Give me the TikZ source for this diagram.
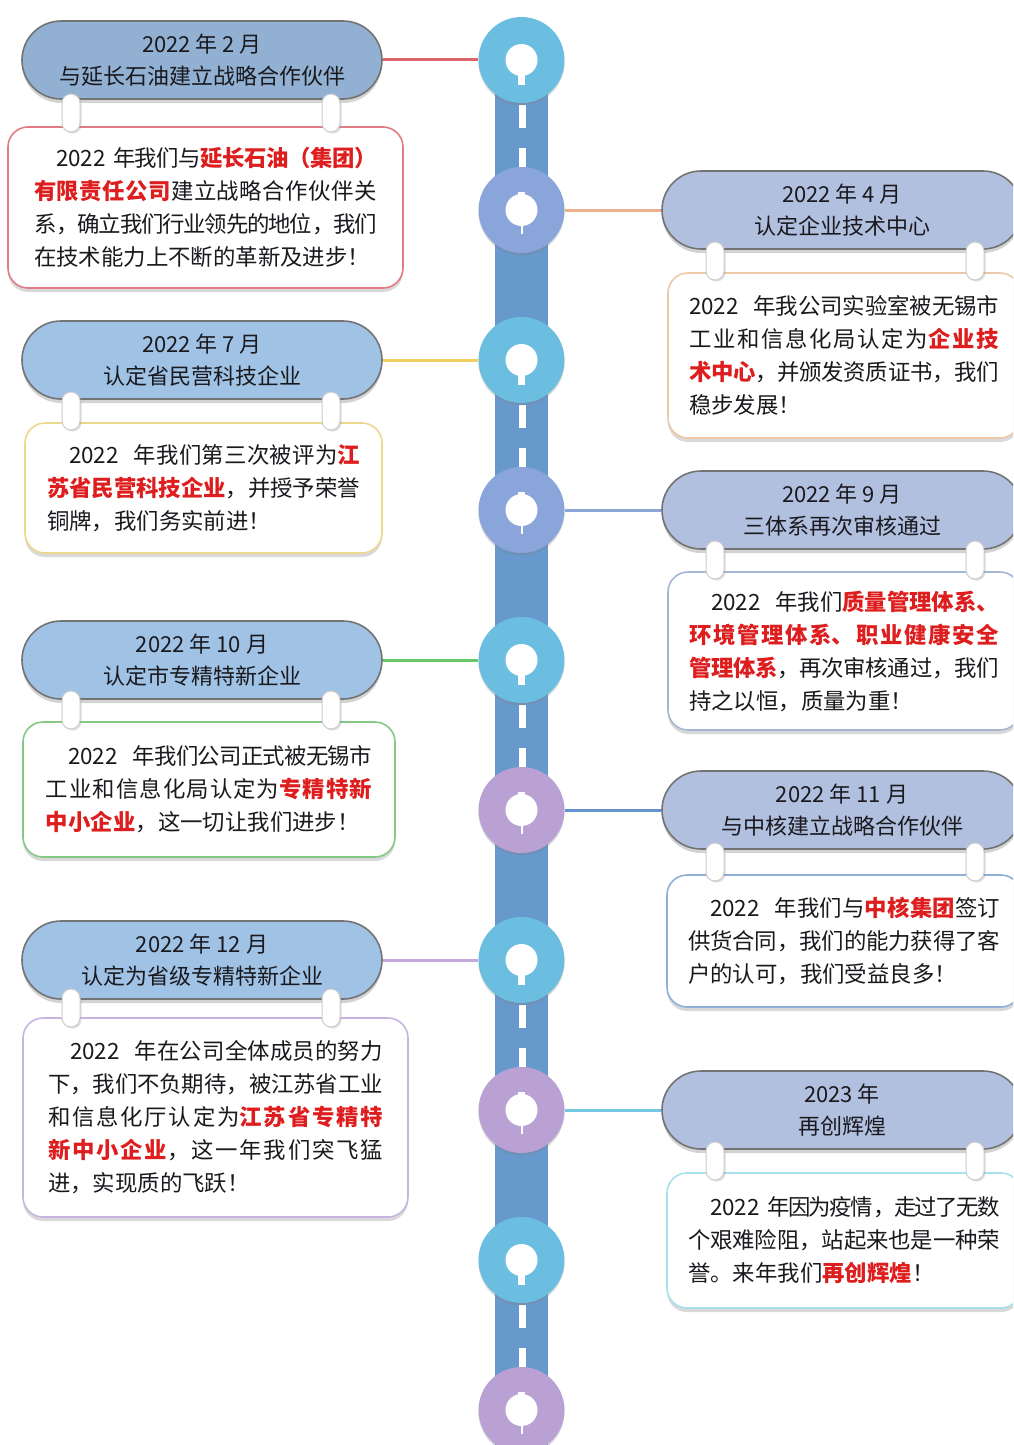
\documentclass[tikz,border=0pt]{standalone}
\usepackage{fontspec}
\setmainfont{Noto Sans CJK SC}
\usepackage{xcolor}
\usepackage{tikz}
\usetikzlibrary{shadows}

\setlength{\parindent}{0pt}

\definecolor{road}{RGB}{103,153,205}
\definecolor{dotA}{RGB}{108,190,224}
\definecolor{dotB}{RGB}{138,165,218}
\definecolor{dotC}{RGB}{185,161,211}
\definecolor{headL}{RGB}{160,194,229}
\definecolor{headLdark}{RGB}{146,176,210}
\definecolor{headR}{RGB}{178,192,224}
\definecolor{ink}{RGB}{25,25,30}
\definecolor{hotred}{RGB}{222,30,30}
\definecolor{lnA}{RGB}{221,102,110}
\definecolor{lnB}{RGB}{238,178,138}
\definecolor{lnC}{RGB}{240,208,96}
\definecolor{lnD}{RGB}{140,166,216}
\definecolor{lnE}{RGB}{102,200,102}
\definecolor{lnF}{RGB}{98,148,208}
\definecolor{lnG}{RGB}{196,168,220}
\definecolor{lnH}{RGB}{118,200,226}
\definecolor{bdA}{RGB}{226,124,132}
\definecolor{bdB}{RGB}{236,200,166}
\definecolor{bdC}{RGB}{236,216,140}
\definecolor{bdD}{RGB}{164,182,212}
\definecolor{bdE}{RGB}{132,200,132}
\definecolor{bdF}{RGB}{142,176,216}
\definecolor{bdG}{RGB}{200,180,226}
\definecolor{bdH}{RGB}{168,224,236}

\newcommand{\hot}[1]{{\bfseries\color{hotred}#1}}
% one full, justified line of a card
\newcommand{\spreadline}[1]{{\rightskip=0pt\parfillskip=0pt #1\par}}
\newcommand{\ind}{\hspace*{11pt}}

\tikzset{
  headbox/.style={rectangle, rounded corners=19.5pt, fill=#1, draw=black!55, line width=0.8pt,
    minimum width=180pt, minimum height=39pt, align=center, text=ink,
    font=\fontsize{11}{16}\selectfont,
    drop shadow={opacity=0.35, shadow xshift=0pt, shadow yshift=-2pt}},
  textbox/.style={rectangle, rounded corners=10pt, fill=white, draw=#1, line width=0.8pt,
    align=left, text=ink, inner xsep=11pt,
    font={\XeTeXlinebreaklocale "zh"\XeTeXlinebreakskip=0pt plus 3pt minus 2pt%
      \XeTeXlinebreakpenalty=10000\fontsize{11.2}{16.5}\selectfont},
    drop shadow={opacity=0.3, shadow xshift=0pt, shadow yshift=-2pt}},
  tabbox/.style={rectangle, rounded corners=4.5pt, fill=white, draw=black!20, line width=0.5pt,
    minimum width=9pt, minimum height=19pt, inner sep=0pt,
    drop shadow={opacity=0.25, shadow xshift=0.8pt, shadow yshift=-0.8pt}},
  dotring/.style={circle, fill=#1, minimum size=43pt, inner sep=0pt,
    drop shadow={opacity=0.3, shadow xshift=0pt, shadow yshift=-1.2pt}},
  dothole/.style={circle, fill=white, minimum size=16pt, inner sep=0pt},
  linkline/.style={draw=#1, line width=1.5pt}
}

\begin{document}
\begin{tikzpicture}[x=0.5pt,y=-0.5pt]
\useasboundingbox (0,0) rectangle (1013,1445);
\clip (0,0) rectangle (1013,1445);

% road and its middle marks
\fill[road] (495,60) rectangle (548,1445);
\foreach \yy in {60,360,660,960,1260}{
  \fill[white] (518.5,\yy+45) rectangle (525.5,\yy+68);
  \fill[white] (518.5,\yy+88) rectangle (525.5,\yy+113);
}

% milestones
\foreach \n/\yy/\col in {1/60/dotA, 2/210/dotB, 3/360/dotA, 4/510/dotB, 5/660/dotA,
                          6/810/dotC, 7/960/dotA, 8/1110/dotC, 9/1260/dotA, 10/1410/dotC}{
  \node[dotring=\col] (c\n) at (521.5,\yy) {};
  \node[dothole] (k\n) at (521.5,\yy) {};
}
\foreach \yy in {60,360,660,960,1260}
  \fill[white] (518,\yy+10) rectangle (525,\yy+25);
\foreach \yy in {210,510,810,1110,1410}{
  \fill[white] (518,\yy-18) rectangle (525,\yy-12);
  \fill[white] (520.5,\yy+12) rectangle (522.5,\yy+24);
}

% text cards
\node[textbox=bdA, text width=171.5pt, inner xsep=13pt, minimum height=80.5pt] (b1) at (205.5,207.5) {%
  \spreadline{\ind 2022~年我们与\hot{延长石油（集团）}}
  \spreadline{\hot{有限责任公司}建立战略合作伙伴关}
  \spreadline{系，确立我们行业领先的地位，我们}
  在技术能力上不断的革新及进步！};
\node[textbox=bdB, text width=155pt, inner xsep=10.5pt, minimum height=82.5pt] (b2) at (844,355.5) {%
  \spreadline{2022~~年我公司实验室被无锡市}
  \spreadline{工业和信息化局认定为\hot{企业技}}
  \spreadline{\hot{术中心}，并颁发资质证书，我们}
  稳步发展！};
\node[textbox=bdC, text width=156.5pt, inner xsep=11pt, minimum height=65pt] (b3) at (203.5,488) {%
  \spreadline{\ind 2022~~年我们第三次被评为\hot{江}}
  \spreadline{\hot{苏省民营科技企业}，并授予荣誉}
  铜牌，我们务实前进！};
\node[textbox=bdD, text width=155pt, inner xsep=10.5pt, minimum height=79pt] (b4) at (844,651) {%
  \spreadline{\ind 2022~~年我们\hot{质量管理体系、}}
  \spreadline{\hot{环境管理体系、职业健康安全}}
  \spreadline{\hot{管理体系}，再次审核通过，我们}
  持之以恒，质量为重！};
\node[textbox=bdE, text width=163pt, inner xsep=11.5pt, minimum height=67.5pt] (b5) at (209,789.5) {%
  \spreadline{\ind 2022~~年我们公司正式被无锡市}
  \spreadline{工业和信息化局认定为\hot{专精特新}}
  \hot{中小企业}，这一切让我们进步！};
\node[textbox=bdF, text width=156pt, inner xsep=10.5pt, minimum height=66pt] (b6) at (844,941) {%
  \spreadline{\ind 2022~~年我们与\hot{中核集团}签订}
  \spreadline{供货合同，我们的能力获得了客}
  户的认可，我们受益良多！};
\node[textbox=bdG, text width=167.5pt, inner xsep=12.5pt, minimum height=99.5pt] (b7) at (215.5,1117.5) {%
  \spreadline{\ind 2022~~年在公司全体成员的努力}
  \spreadline{下，我们不负期待，被江苏省工业}
  \spreadline{和信息化厅认定为\hot{江苏省专精特}}
  \spreadline{\hot{新中小企业}，这一年我们突飞猛}
  进，实现质的飞跃！};
\node[textbox=bdH, text width=156pt, inner xsep=10.5pt, minimum height=67.5pt] (b8) at (844,1240.5) {%
  \spreadline{\ind 2022~年因为疫情，走过了无数}
  \spreadline{个艰难险阻，站起来也是一种荣}
  誉。来年我们\hot{再创辉煌}！};

% titles
\node[headbox=headLdark] (h1) at (202,60) {2022 年 2 月\\与延长石油建立战略合作伙伴};
\node[headbox=headR] (h2) at (842,210) {2022 年 4 月\\认定企业技术中心};
\node[headbox=headL] (h3) at (202,360) {2022 年 7 月\\认定省民营科技企业};
\node[headbox=headR] (h4) at (842,510) {2022 年 9 月\\三体系再次审核通过};
\node[headbox=headL] (h5) at (202,660) {2022 年 10 月\\认定市专精特新企业};
\node[headbox=headR] (h6) at (842,810) {2022 年 11 月\\与中核建立战略合作伙伴};
\node[headbox=headL] (h7) at (202,960) {2022 年 12 月\\认定为省级专精特新企业};
\node[headbox=headR] (h8) at (842,1110) {2023 年\\再创辉煌};

% rings holding title and card together
\foreach \n/\xa/\xb/\yy in {1/71/331/113, 2/715/975/261, 3/71/331/411, 4/715/975/560,
                              5/71/331/710, 6/715/975/862, 7/71/331/1008, 8/715/975/1161}{
  \node[tabbox] (t\n a) at (\xa,\yy) {};
  \node[tabbox] (t\n b) at (\xb,\yy) {};
}

% links to the road
\foreach \n/\col in {1/lnA, 2/lnB, 3/lnC, 4/lnD, 5/lnE, 6/lnF, 7/lnG, 8/lnH}
  \draw[linkline=\col] (h\n) -- (c\n);

\end{tikzpicture}
\end{document}
